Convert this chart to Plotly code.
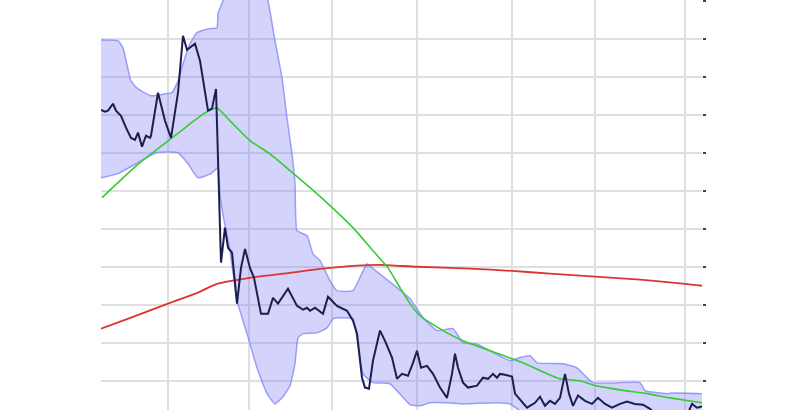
import plotly.graph_objects as go

# --- data (x in days from start, y in value units) ---
price_x = [0, 4, 7, 12, 15, 20, 25, 30, 34, 37, 41, 45, 49, 50, 57, 64, 70, 77, 82, 86, 94, 99,
           107, 111, 115, 120, 124, 127, 131, 136, 140, 144, 149, 153, 160, 167, 172, 177, 187,
           196, 202, 206, 209, 214, 222, 227, 236, 246, 252, 256, 261, 264, 268, 272, 279, 284,
           291, 296, 301, 307, 312, 316, 320, 326, 332, 339, 346, 351, 354, 357, 362, 367, 376,
           382, 387, 392, 396, 399, 404, 411, 414, 419, 426, 434, 439, 444, 449, 454, 459, 464,
           468, 472, 477, 484, 491, 497, 504, 511, 519, 526, 534, 542, 549, 553, 565, 578, 588,
           591, 596, 601]
price_y = [81.3, 80.8, 81.1, 82.9, 81.1, 79.7, 76.6, 73.9, 73.4, 75.3, 71.6, 74.5, 73.9, 74.5,
           85.8, 78.4, 73.9, 85.8, 100.8, 97.1, 98.7, 94.2, 81.1, 81.6, 86.8, 41.1, 50.3, 45.0,
           43.7, 30.3, 39.7, 44.7, 39.7, 37.1, 27.6, 27.6, 31.8, 30.3, 34.2, 29.7, 28.7, 29.2,
           28.4, 29.2, 27.6, 32.1, 29.7, 28.4, 25.8, 22.4, 10.8, 8.2, 7.9, 15.3, 23.2, 20.5,
           16.1, 10.5, 11.8, 11.3, 14.7, 17.9, 13.4, 13.9, 11.8, 8.2, 5.5, 11.8, 17.1, 13.4,
           9.5, 8.2, 8.7, 10.8, 10.5, 11.8, 10.8, 11.8, 11.6, 11.1, 6.6, 5.0, 2.9, 4.2, 5.8,
           3.4, 4.7, 3.9, 5.5, 11.8, 6.6, 3.4, 6.1, 4.7, 3.9, 5.5, 3.9, 2.9, 3.9, 4.5, 3.9, 3.7,
           2.6, 1.6, 1.1, 1.6, 2.1, 3.9, 2.9, 3.2]

band_upper_x = [0, 17, 22, 30, 37, 50, 64, 71, 77, 82, 89, 96, 107, 116, 117, 122, 130, 145,
                158, 167, 174, 181, 186, 191, 194, 196, 206, 212, 219, 229, 236, 252, 266, 272,
                296, 309, 322, 336, 352, 362, 376, 389, 409, 419, 429, 436, 462, 476, 492, 539,
                544, 566, 572, 601]
band_upper_y = [99.7, 99.5, 97.6, 88.9, 86.8, 85.0, 85.5, 85.8, 88.9, 93.4, 98.7, 101.6, 102.6,
                102.9, 106.6, 110.0, 117.9, 123.2, 117.9, 110.0, 99.5, 89.7, 79.2, 69.7, 61.8,
                49.5, 48.2, 43.4, 41.6, 36.3, 33.7, 33.7, 40.8, 39.5, 34.5, 31.6, 26.6, 23.2,
                23.7, 20.0, 19.7, 17.9, 15.3, 16.1, 16.6, 14.7, 14.5, 13.4, 9.5, 9.5, 7.4, 6.6,
                6.8, 6.6]

band_lower_x = [0, 17, 37, 55, 77, 87, 97, 110, 117, 119, 124, 129, 136, 146, 156, 166, 174,
                182, 189, 194, 197, 202, 216, 226, 232, 242, 252, 262, 272, 289, 309, 319, 329,
                346, 362, 396, 409, 419, 429, 601]
band_lower_y = [63.4, 64.5, 67.4, 70.0, 70.0, 67.1, 63.4, 64.5, 66.1, 58.7, 50.8, 44.2, 31.1,
                22.4, 13.4, 6.6, 3.9, 5.8, 8.7, 14.5, 21.3, 22.4, 22.6, 23.9, 26.3, 26.6, 26.3,
                11.8, 9.5, 9.2, 3.7, 3.4, 4.2, 4.2, 3.9, 4.2, 3.9, 2.1, 0.0, 0.0]

ma_short_x = [1, 22, 39, 71, 89, 104, 116, 129, 149, 169, 189, 209, 229, 252, 272, 287, 299,
              309, 319, 329, 346, 362, 389, 416, 429, 459, 479, 492, 519, 546, 569, 601]
ma_short_y = [58.2, 63.4, 67.4, 73.9, 77.6, 80.5, 81.8, 78.4, 73.2, 69.7, 65.3, 60.8, 56.1,
              50.3, 44.2, 39.7, 34.5, 30.3, 27.1, 25.3, 22.6, 20.5, 17.9, 15.3, 13.9, 10.5,
              10.0, 8.9, 7.6, 6.6, 5.5, 4.2]

ma_long_x = [0, 30, 67, 97, 116, 149, 189, 222, 256, 279, 316, 369, 411, 449, 494, 539, 584, 601]
ma_long_y = [23.7, 26.6, 30.3, 33.2, 35.5, 37.1, 38.4, 39.5, 40.3, 40.5, 40.0, 39.5, 38.9,
             38.2, 37.4, 36.6, 35.5, 35.0]

x_grid = [67, 148, 231, 316, 411, 494, 584]
y_grid = [10, 20, 30, 40, 50, 60, 70, 80, 90, 100, 110]

fig = go.Figure()

# band fill
fig.add_trace(go.Scatter(
    x=band_upper_x + band_lower_x[::-1],
    y=band_upper_y + band_lower_y[::-1],
    fill="toself", fillcolor="rgba(120,120,245,0.33)",
    line=dict(width=0, shape="spline", smoothing=0.4),
    mode="lines", hoverinfo="skip", showlegend=False))
for bx, by in ((band_upper_x, band_upper_y), (band_lower_x, band_lower_y)):
    fig.add_trace(go.Scatter(x=bx, y=by, mode="lines",
                             line=dict(color="rgba(130,130,250,0.75)", width=1.5,
                                       shape="spline", smoothing=0.4),
                             hoverinfo="skip", showlegend=False))

fig.add_trace(go.Scatter(x=ma_long_x, y=ma_long_y, mode="lines",
                         line=dict(color="#dd3333", width=1.8, shape="spline", smoothing=0.6),
                         showlegend=False))
fig.add_trace(go.Scatter(x=ma_short_x, y=ma_short_y, mode="lines",
                         line=dict(color="#33cc33", width=1.6, shape="spline", smoothing=0.5),
                         showlegend=False))
fig.add_trace(go.Scatter(x=price_x, y=price_y, mode="lines",
                         line=dict(color="#1e1e4c", width=2), showlegend=False))

fig.update_layout(
    width=810, height=410,
    margin=dict(l=101, r=108, t=0, b=0),
    paper_bgcolor="white", plot_bgcolor="white",
    showlegend=False,
    xaxis=dict(range=[0, 601], tickmode="array", tickvals=x_grid, showticklabels=False,
               showgrid=True, gridcolor="#dfdfdf", gridwidth=2, zeroline=False,
               showline=False, ticks=""),
    yaxis=dict(range=[2.3, 110.2], tickmode="array", tickvals=y_grid, showticklabels=False,
               side="right", ticks="outside", ticklen=3, tickwidth=1.5, tickcolor="#444",
               showgrid=True, gridcolor="#dfdfdf", gridwidth=2, zeroline=False,
               showline=False),
)

fig.write_html("out.html", config={"displayModeBar": False},
               post_script="document.body.style.margin='0px';document.body.style.padding='0px';")
